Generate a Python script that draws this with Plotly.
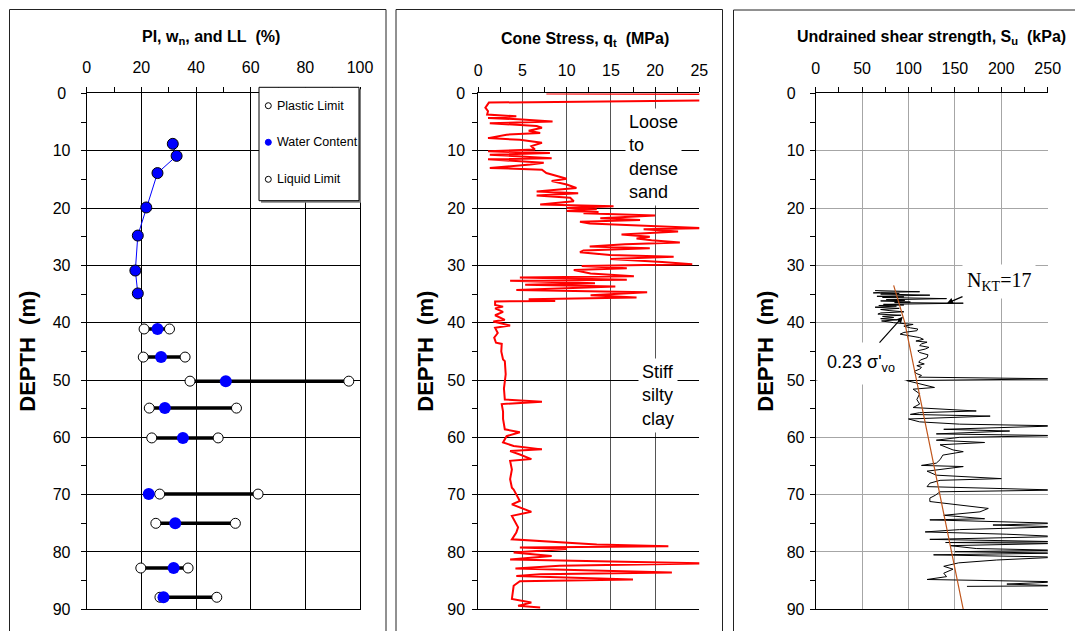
import plotly.graph_objects as go

W, H = 1075, 631
FONT = "Liberation Sans, Arial, sans-serif"
SERIF = "Liberation Serif, Times New Roman, serif"

# ---------------- Atterberg limits and water content ----------------
wc_depth_top = [8.8, 10.9, 13.9, 19.9, 24.8, 30.9, 34.9]
wc_top = [31.5, 32.9, 25.9, 21.8, 18.7, 17.8, 18.7]

lab_depth = [41.1, 46.0, 50.2, 54.9, 60.1, 69.9, 75.0, 82.8, 87.9]
plastic_limit = [21.0, 20.7, 37.8, 22.9, 23.8, 26.7, 25.3, 19.8, 26.8]
water_content = [25.9, 27.2, 50.9, 28.6, 35.2, 22.7, 32.4, 31.8, 28.1]
liquid_limit = [30.3, 36.0, 95.9, 54.8, 48.1, 62.7, 54.4, 37.1, 47.6]

legend_labels = ["Plastic Limit", "Water Content", "Liquid Limit"]

# ---------------- Cone stress profile ----------------
qt_depth = [0.0, 0.1, 1.2, 1.6, 2.5, 3.1, 3.7, 4.0, 4.3, 4.5, 4.9, 5.2, 5.7, 6.0,
            6.5, 6.9, 7.2, 7.8, 8.1, 8.3, 8.6, 9.2, 9.8, 10.1, 10.4, 10.7, 11.3,
            11.5, 12.1, 12.4, 13.0, 13.3, 13.9, 14.5, 14.9, 15.3, 15.9, 16.5, 17.1,
            17.4, 17.8, 18.2, 18.8, 19.4, 19.7, 20.0, 20.2, 20.5, 20.7, 20.9, 21.3,
            21.8, 22.1, 22.4, 22.7, 23.5, 23.7, 24.1, 24.6, 25.0, 25.3, 25.6, 26.0,
            26.3, 26.7, 27.0, 27.4, 27.7, 28.2, 28.5, 28.9, 29.4, 29.8, 30.1, 30.5,
            30.8, 31.4, 31.9, 32.1, 32.5, 32.7, 33.1, 33.4, 33.7, 34.3, 34.7, 35.2,
            35.6, 35.9, 36.2, 36.3, 36.9, 37.2, 37.5, 38.1, 38.7, 39.5, 39.8, 40.5,
            40.9, 41.8, 42.6, 43.5, 43.7, 45.0, 46.4, 46.7, 49.0, 51.5, 53.4, 53.8,
            54.2, 55.5, 56.8, 58.6, 59.1, 59.8, 60.9, 61.5, 62.1, 62.4, 63.0, 63.8,
            64.1, 65.6, 67.3, 68.8, 69.1, 71.1, 71.7, 73.0, 73.7, 75.7, 76.6, 77.8,
            78.7, 79.0, 79.2, 79.5, 80.1, 80.7, 81.3, 82.0, 82.4, 82.9, 83.6, 83.9,
            84.2, 84.8, 85.1, 85.9, 88.2, 88.8, 89.4, 89.7]
qt = [7.7, 28.0, 28.0, 1.2, 0.8, 1.1, 1.0, 4.3, 1.1, 4.5, 8.4, 1.3, 6.6, 7.2,
      5.7, 7.0, 3.2, 1.1, 4.7, 5.9, 7.2, 6.0, 6.4, 1.1, 8.1, 1.3, 8.3,
      1.1, 7.4, 5.9, 1.3, 7.2, 7.7, 9.1, 10.0, 8.3, 10.0, 11.1, 6.6,
      11.3, 6.6, 10.4, 10.8, 7.0, 15.3, 10.0, 13.4, 10.0, 13.6, 11.9, 20.0,
      13.8, 18.3, 11.5, 12.6, 25.5, 18.7, 22.6, 16.2, 19.4, 17.9, 19.6, 22.8,
      16.6, 12.6, 19.4, 11.9, 11.5, 14.9, 22.1, 14.9, 20.8, 24.2, 11.7, 16.8,
      10.8, 12.7, 17.6, 4.7, 16.8, 3.6, 13.2, 5.3, 15.5, 4.3, 19.1, 12.7,
      17.9, 5.7, 8.7, 1.9, 1.9, 2.8, 1.9, 2.8, 1.9, 3.0, 1.7, 3.6,
      1.9, 2.2, 1.8, 2.0, 2.65, 2.6, 2.8, 3.0, 3.1, 2.9, 3.0, 7.2,
      2.65, 2.8, 2.8, 3.0, 4.7, 3.2, 2.8, 4.0, 7.2, 3.6, 4.7, 6.0,
      3.6, 3.8, 3.6, 3.8, 4.0, 4.7, 3.8, 6.0, 3.8, 4.5, 4.3, 3.8,
      13.4, 21.5, 4.7, 10.0, 4.0, 8.3, 3.6, 26.0, 9.2, 4.2, 21.9, 7.0,
      4.3, 17.5, 4.7, 4.0, 3.8, 6.0, 4.5, 7.0]

# ---------------- Undrained shear strength ----------------
su_depth = [34.4, 34.5, 34.6, 34.7, 34.8, 34.9, 35.0, 35.2, 35.3, 35.4, 35.5, 35.6,
            35.8, 35.9, 36.0, 36.1, 36.2, 36.4, 36.5, 36.6, 36.7, 36.8, 36.9, 37.0,
            37.1, 37.2, 37.3, 37.5, 37.7, 37.9, 38.1, 38.3, 38.5, 38.7, 38.9, 39.1,
            39.3, 39.5, 39.7, 39.9, 40.0, 40.3, 40.6, 40.9, 41.1, 41.4, 41.7, 42.0,
            42.3, 42.6, 42.9, 43.2, 43.4, 43.7, 44.0, 44.3, 44.6, 44.9, 45.2, 45.6,
            46.1, 46.5, 46.9, 47.2, 47.5, 47.8, 48.1, 48.5, 48.9, 49.2, 49.5, 49.8,
            50.1, 50.7, 51.3, 51.6, 52.4, 53.4, 54.2, 54.8, 55.4, 55.7, 56.0, 56.3,
            56.8, 57.3, 57.7, 58.0, 58.6, 58.9, 59.4, 59.7, 60.0, 60.5, 60.9, 61.3,
            62.2, 62.5, 63.1, 63.9, 64.5, 64.9, 65.1, 65.9, 66.6, 67.2, 67.5, 68.0,
            68.6, 69.2, 69.5, 70.1, 70.6, 71.2, 71.8, 72.4, 73.0, 73.6, 74.2, 74.4,
            75.0, 75.3, 75.6, 76.1, 76.5, 76.9, 77.3, 77.8, 78.2, 78.35, 78.5, 78.9,
            79.4, 79.7, 79.95, 80.2, 80.5, 80.9, 81.4, 81.9, 82.5, 83.0, 83.7, 84.3,
            84.8, 85.2, 85.6, 85.9, 86.0]
su = [64, 100, 112, 70, 62, 90, 70, 123, 68, 66, 95, 72,
      141, 80, 76, 96, 70, 102, 85, 159, 80, 73, 95, 68,
      87, 72, 64, 90, 70, 80, 95, 70, 67, 92, 72, 84,
      70, 88, 71, 80, 84, 105, 95, 102, 110, 109, 95, 91,
      102, 112, 116, 108, 120, 114, 112, 122, 118, 110, 112, 121,
      120, 113, 111, 117, 109, 114, 112, 106, 109, 114, 111, 262,
      98, 112, 128, 105, 112, 109, 112, 105, 173, 112, 102, 188,
      100, 112, 155, 262, 138, 209, 130, 262, 155, 130, 182, 134,
      148, 159, 137, 134, 130, 114, 159, 120, 130, 200, 134, 123,
      120, 262, 134, 129, 123, 123, 152, 186, 177, 138, 182, 123,
      262, 191, 262, 155, 118, 206, 262, 123, 262, 140, 262, 145,
      173, 262, 150, 262, 127, 262, 195, 154, 138, 148, 138, 141,
      120, 262, 206, 262, 163]

trend_depth = [33.5, 40.0, 90.0]
trend_su = [84, 96, 159]


def px(x):
    """Page pixel column -> paper fraction."""
    return x / W


def py(y):
    """Page pixel row (from top) -> paper fraction."""
    return 1 - y / H


Y_DOM = [py(609.3), py(93.4)]
Y_TICKS = list(range(0, 100, 10))


def x_axis(domain, rng, dtick, minor, gridcolor, anchor, standoff):
    return dict(domain=domain, range=rng, side="top", anchor=anchor,
                tickmode="linear", tick0=0, dtick=dtick,
                ticks="outside", ticklen=5, tickwidth=1, tickcolor="black",
                minor=dict(dtick=minor, ticks="outside", ticklen=5, tickwidth=1,
                           tickcolor="black", showgrid=False),
                showgrid=True, gridcolor=gridcolor, gridwidth=1,
                showline=True, linecolor="black", linewidth=1, mirror=True,
                zeroline=False, automargin=False, ticklabelstandoff=standoff,
                tickfont=dict(family=FONT, size=16, color="black"), fixedrange=True)


def y_axis(gridcolor, anchor, mirror, standoff, zero_label):
    return dict(domain=Y_DOM, range=[90, 0], anchor=anchor, autorange=False,
                tickmode="array", tickvals=Y_TICKS,
                ticktext=[zero_label if v == 0 else str(v) for v in Y_TICKS],
                ticks="outside", ticklen=5, tickwidth=1, tickcolor="black",
                minor=dict(dtick=5, ticks="outside", ticklen=5, tickwidth=1,
                           tickcolor="black", showgrid=False),
                showgrid=True, gridcolor=gridcolor, gridwidth=1,
                showline=True, linecolor="black", linewidth=1, mirror=mirror,
                zeroline=False, automargin=False, ticklabelstandoff=standoff,
                tickfont=dict(family=FONT, size=16, color="black"), fixedrange=True)


fig = go.Figure()

# ---- panel 1: PL–LL bars, water content, limits ----
bar_x, bar_y = [], []
for d, lo, hi in zip(lab_depth, plastic_limit, liquid_limit):
    bar_x += [lo, hi, None]
    bar_y += [d, d, None]
fig.add_trace(go.Scatter(x=bar_x, y=bar_y, mode="lines",
                         line=dict(color="black", width=3.5), xaxis="x", yaxis="y"))
fig.add_trace(go.Scatter(x=wc_top, y=wc_depth_top, mode="lines+markers",
                         line=dict(color="#0000ff", width=1),
                         marker=dict(size=11, color="#0000ff",
                                     line=dict(color="black", width=1)),
                         xaxis="x", yaxis="y"))
for vals in (plastic_limit, liquid_limit):
    fig.add_trace(go.Scatter(x=vals, y=lab_depth, mode="markers",
                             marker=dict(size=10, color="white",
                                         line=dict(color="black", width=1)),
                             xaxis="x", yaxis="y"))
fig.add_trace(go.Scatter(x=water_content, y=lab_depth, mode="markers",
                         marker=dict(size=12, color="#0000ff"),
                         xaxis="x", yaxis="y"))

# ---- panel 2: cone stress ----
fig.add_trace(go.Scatter(x=qt, y=qt_depth, mode="lines",
                         line=dict(color="#ff0000", width=2),
                         xaxis="x2", yaxis="y2"))

# ---- panel 3: undrained shear strength ----
fig.add_trace(go.Scatter(x=su, y=su_depth, mode="lines",
                         line=dict(color="black", width=1),
                         xaxis="x3", yaxis="y3"))
fig.add_trace(go.Scatter(x=trend_su, y=trend_depth, mode="lines",
                         line=dict(color="#c0561c", width=1.2),
                         xaxis="x3", yaxis="y3"))

shapes = []
# panel frames
for x0, x1, top in ((9.5, 386.0, 9.5), (396.0, 722.5, 9.5), (733.5, 1100.0, 10.0)):
    shapes.append(dict(type="rect", xref="paper", yref="paper",
                       x0=px(x0), x1=px(x1), y0=-0.1, y1=py(top),
                       line=dict(color="#222222", width=1)))

# legend box with shadow
shapes.append(dict(type="rect", xref="paper", yref="paper",
                   x0=px(261), x1=px(361), y0=py(202.7), y1=py(89.3),
                   fillcolor="#7f7f7f", line=dict(width=0)))
shapes.append(dict(type="rect", xref="paper", yref="paper",
                   x0=px(259), x1=px(359), y0=py(200.7), y1=py(87.3),
                   fillcolor="white", line=dict(color="black", width=1)))

legend_rows = [105.7, 142.3, 179.3]
legend_fill = ["white", "#0000ff", "white"]
legend_edge = ["black", "#0000ff", "black"]
annotations = []
for label, yy, fill, edge in zip(legend_labels, legend_rows, legend_fill, legend_edge):
    r = 3.0
    shapes.append(dict(type="circle", xref="paper", yref="paper",
                       x0=px(268.3 - r), x1=px(268.3 + r), y0=py(yy + r), y1=py(yy - r),
                       fillcolor=fill, line=dict(color=edge, width=1)))
    annotations.append(dict(xref="paper", yref="paper", x=px(274.5), y=py(yy),
                            xanchor="left", yanchor="middle", showarrow=False,
                            text=label, font=dict(family=FONT, size=12.5, color="black")))

# panel titles
titles = [("PI, w<sub>n</sub>, and LL&nbsp;&nbsp;(%)", 210.5, 37.5),
          ("Cone Stress, q<sub>t</sub>&nbsp;&nbsp;(MPa)", 584.5, 40.0),
          ("Undrained shear strength, S<sub>u</sub>&nbsp;&nbsp;(kPa)", 931.5, 37.5)]
for text, xx, yy in titles:
    annotations.append(dict(xref="paper", yref="paper", x=px(xx), y=py(yy),
                            xanchor="center", yanchor="middle", showarrow=False,
                            text="<b>" + text + "</b>",
                            font=dict(family=FONT, size=16, color="black")))

# depth labels
for xx in (26.7, 424.7, 764.7):
    annotations.append(dict(xref="paper", yref="paper", x=px(xx), y=py(351),
                            xanchor="center", yanchor="middle", showarrow=False,
                            textangle=-90, text="<b>DEPTH&nbsp;&nbsp;(m)</b>",
                            font=dict(family=FONT, size=22, color="black")))

# soil descriptions
annotations.append(dict(xref="paper", yref="paper", x=px(653.5), y=py(157),
                        xanchor="center", yanchor="middle", align="left",
                        showarrow=False, bgcolor="white", borderpad=3,
                        text="Loose<br>to<br>dense<br>sand",
                        font=dict(family=FONT, size=18, color="black")))
annotations.append(dict(xref="paper", yref="paper", x=px(658), y=py(395),
                        xanchor="center", yanchor="middle", align="left",
                        showarrow=False, bgcolor="white", borderpad=3,
                        text="Stiff<br>silty<br>clay",
                        font=dict(family=FONT, size=18, color="black")))

# shear-strength callouts
annotations.append(dict(xref="x3", yref="y3", x=141.5, y=36.6, ax=52, ay=-22,
                        showarrow=True, arrowhead=2, arrowsize=1, arrowwidth=1.2,
                        arrowcolor="black", bgcolor="white", borderpad=4,
                        text="N<sub>KT</sub>=17",
                        font=dict(family=SERIF, size=20, color="black")))
annotations.append(dict(xref="x3", yref="y3", x=93.8, y=38.95, ax=-42, ay=47,
                        showarrow=True, arrowhead=2, arrowsize=1, arrowwidth=1.2,
                        arrowcolor="black", bgcolor="white", borderpad=9,
                        text="0.23 σ'<sub>vo</sub>",
                        font=dict(family=FONT, size=18, color="black")))

fig.update_layout(
    width=W, height=H,
    margin=dict(l=0, r=0, t=0, b=0, pad=0, autoexpand=False),
    paper_bgcolor="white", plot_bgcolor="white", showlegend=False,
    xaxis=x_axis([px(86.7), px(360.0)], [0, 100], 20, 10, "black", "y", 8),
    yaxis=y_axis("black", "x", True, 7, "0\u00a0"),
    xaxis2=x_axis([px(478.3), px(699.3)], [0, 25], 5, 2.5, "#555555", "y2", 5),
    yaxis2=y_axis("black", "x2", False, 4, "0"),
    xaxis3=x_axis([px(815.7), px(1047.7)], [0, 250], 50, 25, "#a6a6a6", "y3", 7),
    yaxis3=y_axis("#a6a6a6", "x3", False, 2, "0\u00a0\u00a0"),
    shapes=shapes, annotations=annotations,
)

fig.write_html("out.html")
